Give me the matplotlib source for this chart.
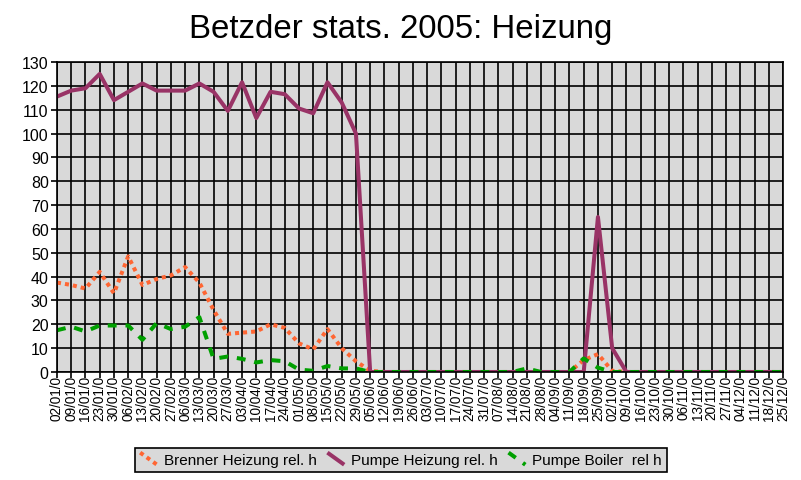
import matplotlib
matplotlib.use("Agg")
import matplotlib.pyplot as plt
from matplotlib.transforms import Bbox, TransformedBbox
from matplotlib.legend_handler import HandlerLine2D
from matplotlib.lines import Line2D
import numpy as np

plt.rcParams['font.family'] = ['Liberation Sans', 'DejaVu Sans']

dates = ["02/01/05", "09/01/05", "16/01/05", "23/01/05", "30/01/05", "06/02/05",
         "13/02/05", "20/02/05", "27/02/05", "06/03/05", "13/03/05", "20/03/05",
         "27/03/05", "03/04/05", "10/04/05", "17/04/05", "24/04/05", "01/05/05",
         "08/05/05", "15/05/05", "22/05/05", "29/05/05", "05/06/05", "12/06/05",
         "19/06/05", "26/06/05", "03/07/05", "10/07/05", "17/07/05", "24/07/05",
         "31/07/05", "07/08/05", "14/08/05", "21/08/05", "28/08/05", "04/09/05",
         "11/09/05", "18/09/05", "25/09/05", "02/10/05", "09/10/05", "16/10/05",
         "23/10/05", "30/10/05", "06/11/05", "13/11/05", "20/11/05", "27/11/05",
         "04/12/05", "11/12/05", "18/12/05", "25/12/05"]

brenner = [37.5, 36.5, 35, 42, 33, 48.5, 36.5, 39, 40.5, 44, 37.5, 26,
           16, 16.5, 17, 20, 18.5, 12, 9.5, 18, 10, 4.5, 0.5, 0,
           0, 0, 0, 0, 0, 0, 0, 0, 0, 0, 0, 0,
           0, 5, 7.5, 0.5, 0, 0, 0, 0, 0, 0, 0, 0,
           0, 0, 0, 0]

pumpe_heizung = [115.5, 118, 119, 125, 114, 117.5, 121, 118, 118, 118, 121, 117.5,
                 109.5, 121.5, 106.5, 117.5, 116.5, 110.5, 108.5, 121.5, 113, 100, 0, 0,
                 0, 0, 0, 0, 0, 0, 0, 0, 0, 0, 0, 0,
                 0, 0, 65, 10, 0, 0, 0, 0, 0, 0, 0, 0,
                 0, 0, 0, 0]

pumpe_boiler = [17.5, 19, 17, 19.5, 19.5, 19.5, 13.5, 20.5, 18, 19, 23, 5.5,
                6.5, 5.5, 4, 5, 4.5, 1, 0.5, 2.5, 1.5, 1.5, 0, 0,
                0, 0, 0, 0, 0, 0, 0, 0, 0, 1.5, 0, 0,
                0, 5.7, 1.8, 0, 0, 0, 0, 0, 0, 0, 0, 0,
                0, 0, 0, 0]


class DiagHandler(HandlerLine2D):
    # legend keys drawn as short diagonal strokes like the old spreadsheet
    def create_artists(self, legend, orig_handle, xdescent, ydescent,
                       width, height, fontsize, trans):
        line = Line2D([0, width], [height + 0.5, -0.5])
        self.update_prop(line, orig_handle, legend)
        line.set_transform(trans)
        return [line]


x = np.arange(len(dates))

fig = plt.figure(figsize=(8.01, 4.81), dpi=100)
ax = fig.add_axes([57/801, 1-373/481, (783-57)/801, (373-63)/481])
ax.set_facecolor('#d9d9d9')

ax.plot(x, brenner, color='#ff6633', lw=2.9, linestyle=(0, (1, 1)),
        label='Brenner Heizung rel. h')
ax.plot(x, pumpe_heizung, color='#993366', lw=2.9, solid_capstyle='butt',
        label='Pumpe Heizung rel. h')
ax.plot(x, pumpe_boiler, color='#00a000', lw=2.9, linestyle=(0, (2.2, 2.2)),
        label='Pumpe Boiler  rel h')

ax.set_xlim(0, len(dates) - 1)
ax.set_ylim(0, 130)
ax.set_yticks(np.arange(0, 131, 10))
ax.set_xticks(x)
ax.set_xticklabels(dates, rotation=90, fontsize=9.8, va='top')
ax.grid(True, color='black', lw=1.2)
ax.set_axisbelow(True)
for s in ax.spines.values():
    s.set_color('black')
    s.set_linewidth(1.2)
ax.tick_params(axis='y', direction='out', length=4, width=1.2, labelsize=11.5, pad=2)
ax.tick_params(axis='x', direction='out', length=4, width=1.2, pad=-7.5)

clip = TransformedBbox(Bbox.from_extents(0, 0, 1, 1 - 379/481), fig.transFigure)
for lab in ax.get_xticklabels():
    lab.set_clip_on(True)
    lab.set_clip_box(clip)

fig.suptitle('Betzder stats. 2005: Heizung', fontsize=23.8, y=1 - 14/481, va='top')

leg = fig.legend(loc='center', bbox_to_anchor=(401/801, 1 - 461/481), ncol=3,
                 fontsize=11, fancybox=False, edgecolor='black',
                 facecolor='#d9d9d9', framealpha=1, handlelength=1.1,
                 handletextpad=0.45, columnspacing=0.7, borderpad=0.35,
                 handler_map={Line2D: DiagHandler()})
leg.get_frame().set_linewidth(1.2)

fig.savefig('out.png', dpi=100)
